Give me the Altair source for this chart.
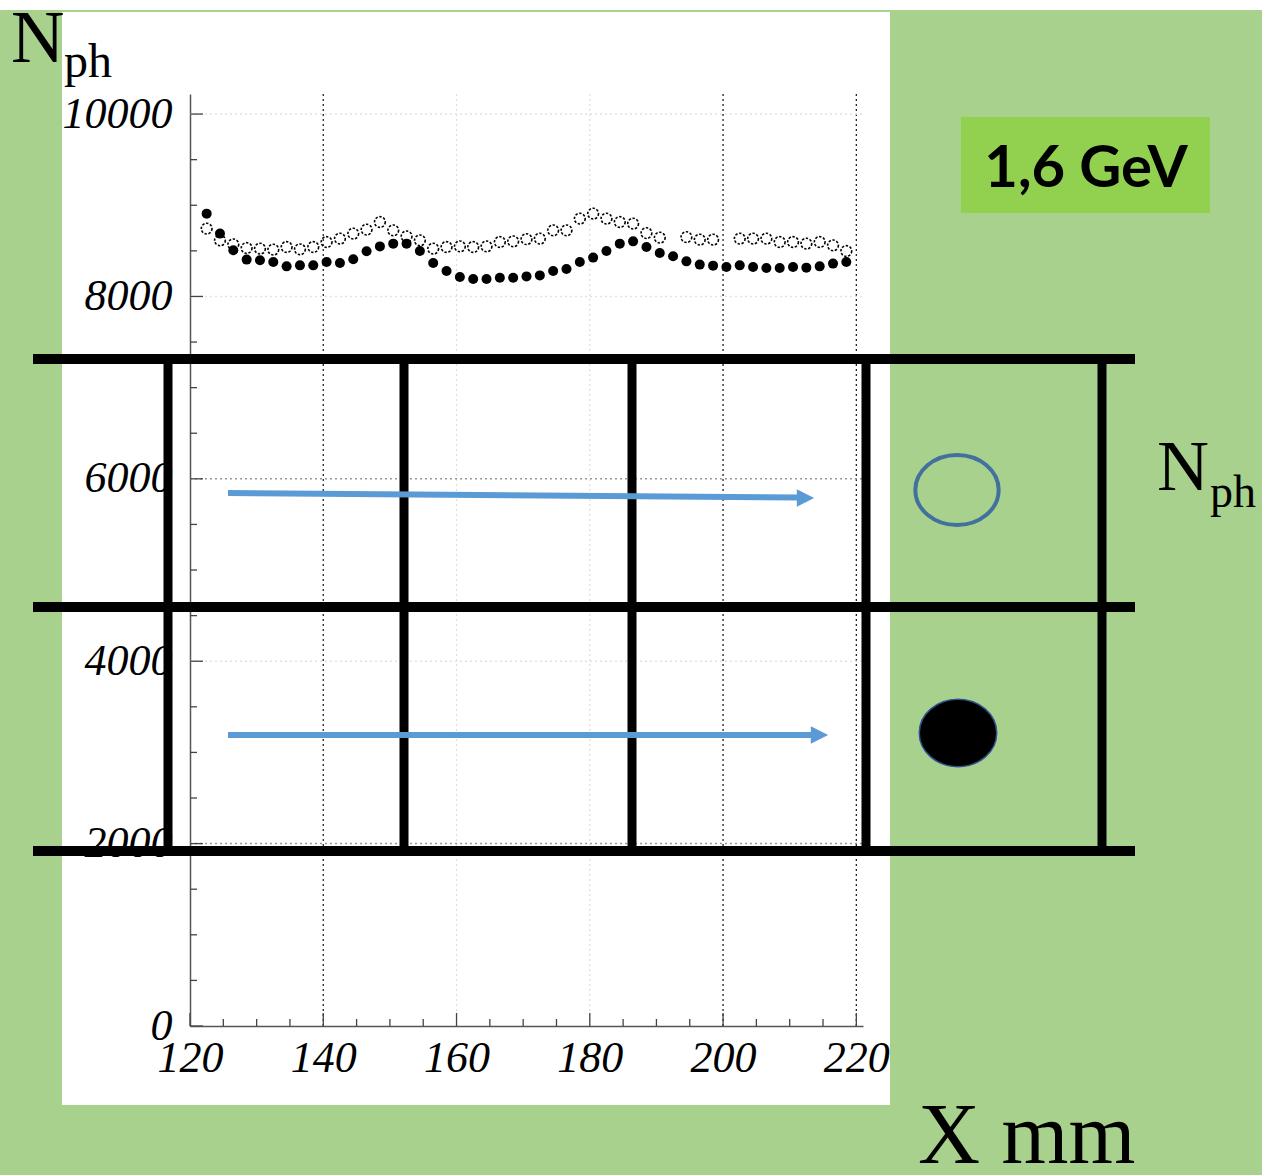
import altair as alt
import pandas as pd

# ---------------- data ----------------
x_mm = [122.5, 124.5, 126.5, 128.5, 130.5, 132.5, 134.5, 136.5, 138.5, 140.5,
        142.5, 144.5, 146.5, 148.5, 150.5, 152.5, 154.5, 156.5, 158.5, 160.5,
        162.5, 164.5, 166.5, 168.5, 170.5, 172.5, 174.5, 176.5, 178.5, 180.5,
        182.5, 184.5, 186.5, 188.5, 190.5, 192.5, 194.5, 196.5, 198.5, 200.5,
        202.5, 204.5, 206.5, 208.5, 210.5, 212.5, 214.5, 216.5, 218.5]
nph_filled = [8908, 8689, 8506, 8404, 8396, 8377, 8330, 8341, 8341, 8377,
              8366, 8407, 8495, 8549, 8579, 8579, 8498, 8366, 8279, 8213,
              8191, 8191, 8206, 8206, 8220, 8231, 8279, 8301, 8377, 8426,
              8498, 8579, 8604, 8542, 8476, 8440, 8385, 8349, 8338, 8322,
              8341, 8322, 8311, 8311, 8322, 8316, 8330, 8360, 8377]
nph_open = [8744, 8615, 8571, 8531, 8524, 8513, 8542, 8517, 8542, 8597,
            8634, 8689, 8733, 8816, 8725, 8659, 8615, 8524, 8542, 8549,
            8542, 8549, 8597, 8604, 8628, 8634, 8725, 8725, 8853, 8908,
            8853, 8816, 8798, 8695, 8645, None, 8651, 8623, 8623, None,
            8634, 8634, 8634, 8597, 8597, 8579, 8597, 8560, 8498]

x_labels = [120, 140, 160, 180, 200, 220]
y_labels = [0, 2000, 4000, 6000, 8000, 10000]
x_minor = [125, 130, 135, 145, 150, 155, 165, 170, 175, 185, 190, 195, 205, 210, 215]
y_minor = [500, 1000, 1500, 2500, 3000, 3500, 4500, 5000, 5500, 6500, 7000, 7500,
           8500, 9000, 9500]
energy_label = "1,6 GeV"

# ---------------- layout (page pixels) ----------------
OX, OY = 190, 94          # plot origin on the page
W, H = 673, 932           # plot area
PAGE_W, PAGE_H = 1262, 1175


def rx(v):
    return v - OX


def ry(v):
    return v - OY


xscale = alt.Scale(domain=[120, 221], nice=False, zero=False)
yscale = alt.Scale(domain=[0, 10220], nice=False, zero=True)

lab = dict(labelFont="Liberation Serif", labelFontStyle="italic", labelFontSize=44,
           labelColor="black", title=None, grid=False, ticks=False,
           domainColor="#555", domainWidth=1.5, labelOverlap=False, labelFlush=False,
           labelBound=False, format="d")
xaxis = alt.Axis(values=x_labels, labelAlign="center", labelBaseline="top",
                 labelPadding=10, **lab)
yaxis = alt.Axis(values=y_labels, labelAlign="right", labelBaseline="middle",
                 labelPadding=18, **lab)


def X(f):
    return alt.X(f"{f}:Q", scale=xscale, axis=xaxis)


def Y(f):
    return alt.Y(f"{f}:Q", scale=yscale, axis=yaxis)


def PX(f):
    return alt.X(f"{f}:Q", scale=None, axis=None)


def PY(f):
    return alt.Y(f"{f}:Q", scale=None, axis=None)


# green surrounds
green_df = pd.DataFrame({
    "a": [rx(0), rx(890), rx(62), rx(62)],
    "b": [rx(62), rx(1262), rx(890), rx(890)],
    "c": [ry(10), ry(10), ry(1105), ry(10)],
    "d": [ry(1175), ry(1175), ry(1175), ry(12)],
})
green = alt.Chart(green_df).mark_rect(color="#A9D18E").encode(
    x=PX("a"), x2="b", y=PY("c"), y2="d")

box_df = pd.DataFrame({"a": [rx(961)], "b": [rx(1210)], "c": [ry(117)], "d": [ry(213)]})
box = alt.Chart(box_df).mark_rect(color="#92D050").encode(
    x=PX("a"), x2="b", y=PY("c"), y2="d")

# grid lines
gx_dark = alt.Chart(pd.DataFrame({"g": [140, 200, 220]})).mark_rule(
    color="#222", strokeWidth=1.3, strokeDash=[2, 3]).encode(
    x=X("g"), y=alt.value(0), y2=alt.value(H))
gx_light = alt.Chart(pd.DataFrame({"g": [160, 180]})).mark_rule(
    color="#ddd", strokeWidth=1.2, strokeDash=[2, 3]).encode(
    x=X("g"), y=alt.value(0), y2=alt.value(H))
gy_mid = alt.Chart(pd.DataFrame({"g": [2000, 6000]})).mark_rule(
    color="#999", strokeWidth=1.5, strokeDash=[2, 3]).encode(
    y=Y("g"), x=alt.value(0), x2=alt.value(W))
gy_light = alt.Chart(pd.DataFrame({"g": [4000, 8000, 10000]})).mark_rule(
    color="#e2e2e2", strokeWidth=1.5, strokeDash=[2, 3]).encode(
    y=Y("g"), x=alt.value(0), x2=alt.value(W))

# inward ticks
tx_minor = alt.Chart(pd.DataFrame({"t": x_minor})).mark_rule(color="#444", strokeWidth=1.3).encode(
    x=X("t"), y=alt.value(H), y2=alt.value(H - 7))
tx_major = alt.Chart(pd.DataFrame({"t": x_labels})).mark_rule(color="#444", strokeWidth=1.3).encode(
    x=X("t"), y=alt.value(H), y2=alt.value(H - 13))
ty_minor = alt.Chart(pd.DataFrame({"t": y_minor})).mark_rule(color="#444", strokeWidth=1.3).encode(
    y=Y("t"), x=alt.value(0), x2=alt.value(7))
ty_major = alt.Chart(pd.DataFrame({"t": y_labels})).mark_rule(color="#444", strokeWidth=1.3).encode(
    y=Y("t"), x=alt.value(0), x2=alt.value(13))

# data
df = pd.DataFrame({"x": x_mm, "filled": nph_filled, "open": nph_open})
open_pts = alt.Chart(df).transform_filter("isValid(datum.open)").mark_point(
    filled=False, color="black", size=115, strokeWidth=1.6, strokeDash=[2.4, 1.6], opacity=1).encode(
    x=X("x"), y=Y("open"))
filled_pts = alt.Chart(df).mark_point(
    filled=True, color="black", size=100, opacity=1).encode(
    x=X("x"), y=Y("filled"))

# thick black frame lines
hl_df = pd.DataFrame({"y": [ry(359), ry(607), ry(851)], "a": [rx(33)] * 3, "b": [rx(1135)] * 3})
hlines = alt.Chart(hl_df).mark_rule(color="black", strokeWidth=10).encode(
    y=PY("y"), x=PX("a"), x2="b")
vl_df = pd.DataFrame({"x": [rx(168), rx(404), rx(632), rx(866), rx(1102)],
                      "a": [ry(354)] * 5, "b": [ry(856)] * 5})
vlines = alt.Chart(vl_df).mark_rule(color="black", strokeWidth=9).encode(
    x=PX("x"), y=PY("a"), y2="b")

# blue arrows
ar_df = pd.DataFrame({"a": [rx(228), rx(228)], "b": [rx(800), rx(813)],
                      "c": [ry(493), ry(735)], "d": [ry(497.5), ry(735)]})
arrows = alt.Chart(ar_df).mark_rule(color="#5B9BD5", strokeWidth=6).encode(
    x=PX("a"), x2="b", y=PY("c"), y2="d")
head_df = pd.DataFrame({"x": [rx(805.5), rx(819.5)], "y": [ry(498), ry(735)]})
heads = alt.Chart(head_df).mark_point(
    shape="M-1,-1L1,0L-1,1Z", filled=True, color="#5B9BD5", size=300, opacity=1).encode(
    x=PX("x"), y=PY("y"))

# legend ellipses
e1 = alt.Chart(pd.DataFrame({"x": [rx(957)], "y": [ry(490)]})).mark_point(
    shape="M-1,0A1,0.84,0,1,1,1,0A1,0.84,0,1,1,-1,0Z", filled=False,
    stroke="#41719C", strokeWidth=4, size=6950, opacity=1).encode(x=PX("x"), y=PY("y"))
e2 = alt.Chart(pd.DataFrame({"x": [rx(958)], "y": [ry(733)]})).mark_point(
    shape="M-1,0A1,0.87,0,1,1,1,0A1,0.87,0,1,1,-1,0Z", filled=True,
    fill="black", stroke="#2F528F", strokeWidth=1.5, size=6000, opacity=1).encode(
    x=PX("x"), y=PY("y"))


def txt(x, y, s, size, font="Liberation Serif", weight="normal", align="left"):
    d = pd.DataFrame({"x": [rx(x)], "y": [ry(y)], "t": [s]})
    return alt.Chart(d).mark_text(font=font, fontSize=size, fontWeight=weight, align=align,
                                  baseline="alphabetic", color="black").encode(
        x=PX("x"), y=PY("y"), text="t:N")


texts = [
    txt(11, 62, "N", 74),
    txt(64, 77, "ph", 48),
    txt(1157, 490, "N", 72),
    txt(1210, 507, "ph", 46),
    txt(918, 1163, "X mm", 86),
    txt(1086, 187, energy_label, 58, font="Lato", weight="bold", align="center"),
]

chart = alt.layer(
    green, box, gx_light, gx_dark, gy_light, gy_mid,
    tx_minor, tx_major, ty_minor, ty_major,
    open_pts, filled_pts,
    hlines, vlines, arrows, heads, e1, e2, *texts
).properties(
    width=W, height=H,
    padding={"left": OX, "top": OY, "right": PAGE_W - OX - W, "bottom": PAGE_H - OY - H},
    autosize=alt.AutoSizeParams(type="none"),
    background="white",
).configure_view(stroke=None)

chart.save("out.html", embed_options={"renderer": "svg", "actions": False})
